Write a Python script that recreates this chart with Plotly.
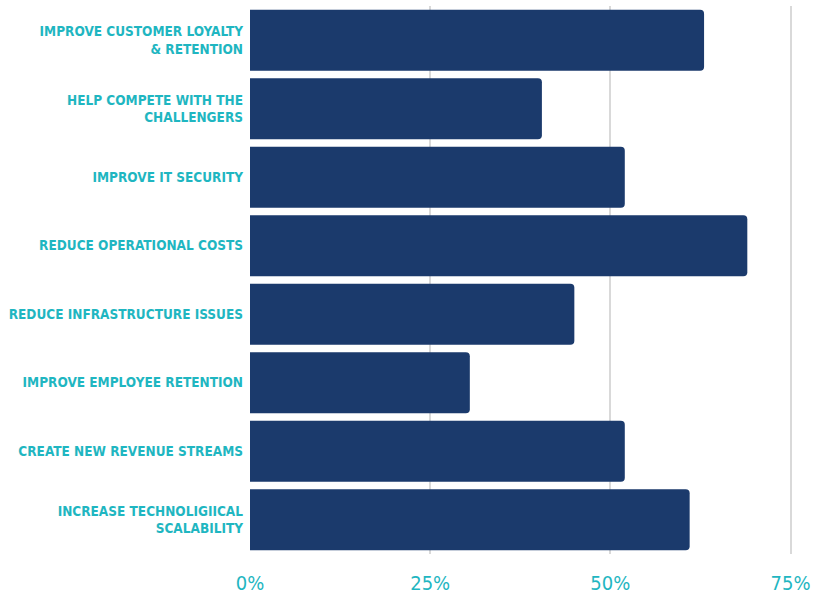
import plotly.graph_objects as go

categories = [
    "IMPROVE CUSTOMER LOYALTY<br>& RETENTION",
    "HELP COMPETE WITH THE<br>CHALLENGERS",
    "IMPROVE IT SECURITY",
    "REDUCE OPERATIONAL COSTS",
    "REDUCE INFRASTRUCTURE ISSUES",
    "IMPROVE EMPLOYEE RETENTION",
    "CREATE NEW REVENUE STREAMS",
    "INCREASE TECHNOLIGIICAL<br>SCALABILITY",
]
values = [63, 40.5, 52, 69, 45, 30.5, 52, 61]
tick_vals = [0, 25, 50, 75]
tick_text = ["0%", "25%", "50%", "75%"]

BAR = "#1b3a6c"
TEAL = "#1fb6c1"
FONT = "Liberation Sans Narrow, Arial Narrow, DejaVu Sans Condensed, sans-serif"

fig = go.Figure(go.Bar(
    x=values,
    y=categories,
    orientation="h",
    marker=dict(color=BAR, line=dict(width=0), cornerradius=4),
    hoverinfo="x+y",
))

fig.update_layout(
    width=817, height=598,
    margin=dict(l=250, r=25, t=6, b=44),
    paper_bgcolor="white",
    plot_bgcolor="white",
    bargap=0.11,
    showlegend=False,
    xaxis=dict(
        range=[0, 75.2],
        tickvals=tick_vals,
        ticktext=tick_text,
        showgrid=True,
        gridcolor="#d9d9d9",
        gridwidth=1.5,
        zeroline=False,
        showline=False,
        tickfont=dict(family=FONT, size=20, color=TEAL),
        ticklabelstandoff=15,
        automargin=False,
        fixedrange=True,
    ),
    yaxis=dict(
        autorange="reversed",
        showgrid=False,
        zeroline=False,
        showline=False,
        tickfont=dict(family=FONT, size=13.5, color=TEAL, weight="bold"),
        ticklabelstandoff=6,
        automargin=False,
        fixedrange=True,
    ),
)

fig.write_html("out.html")
